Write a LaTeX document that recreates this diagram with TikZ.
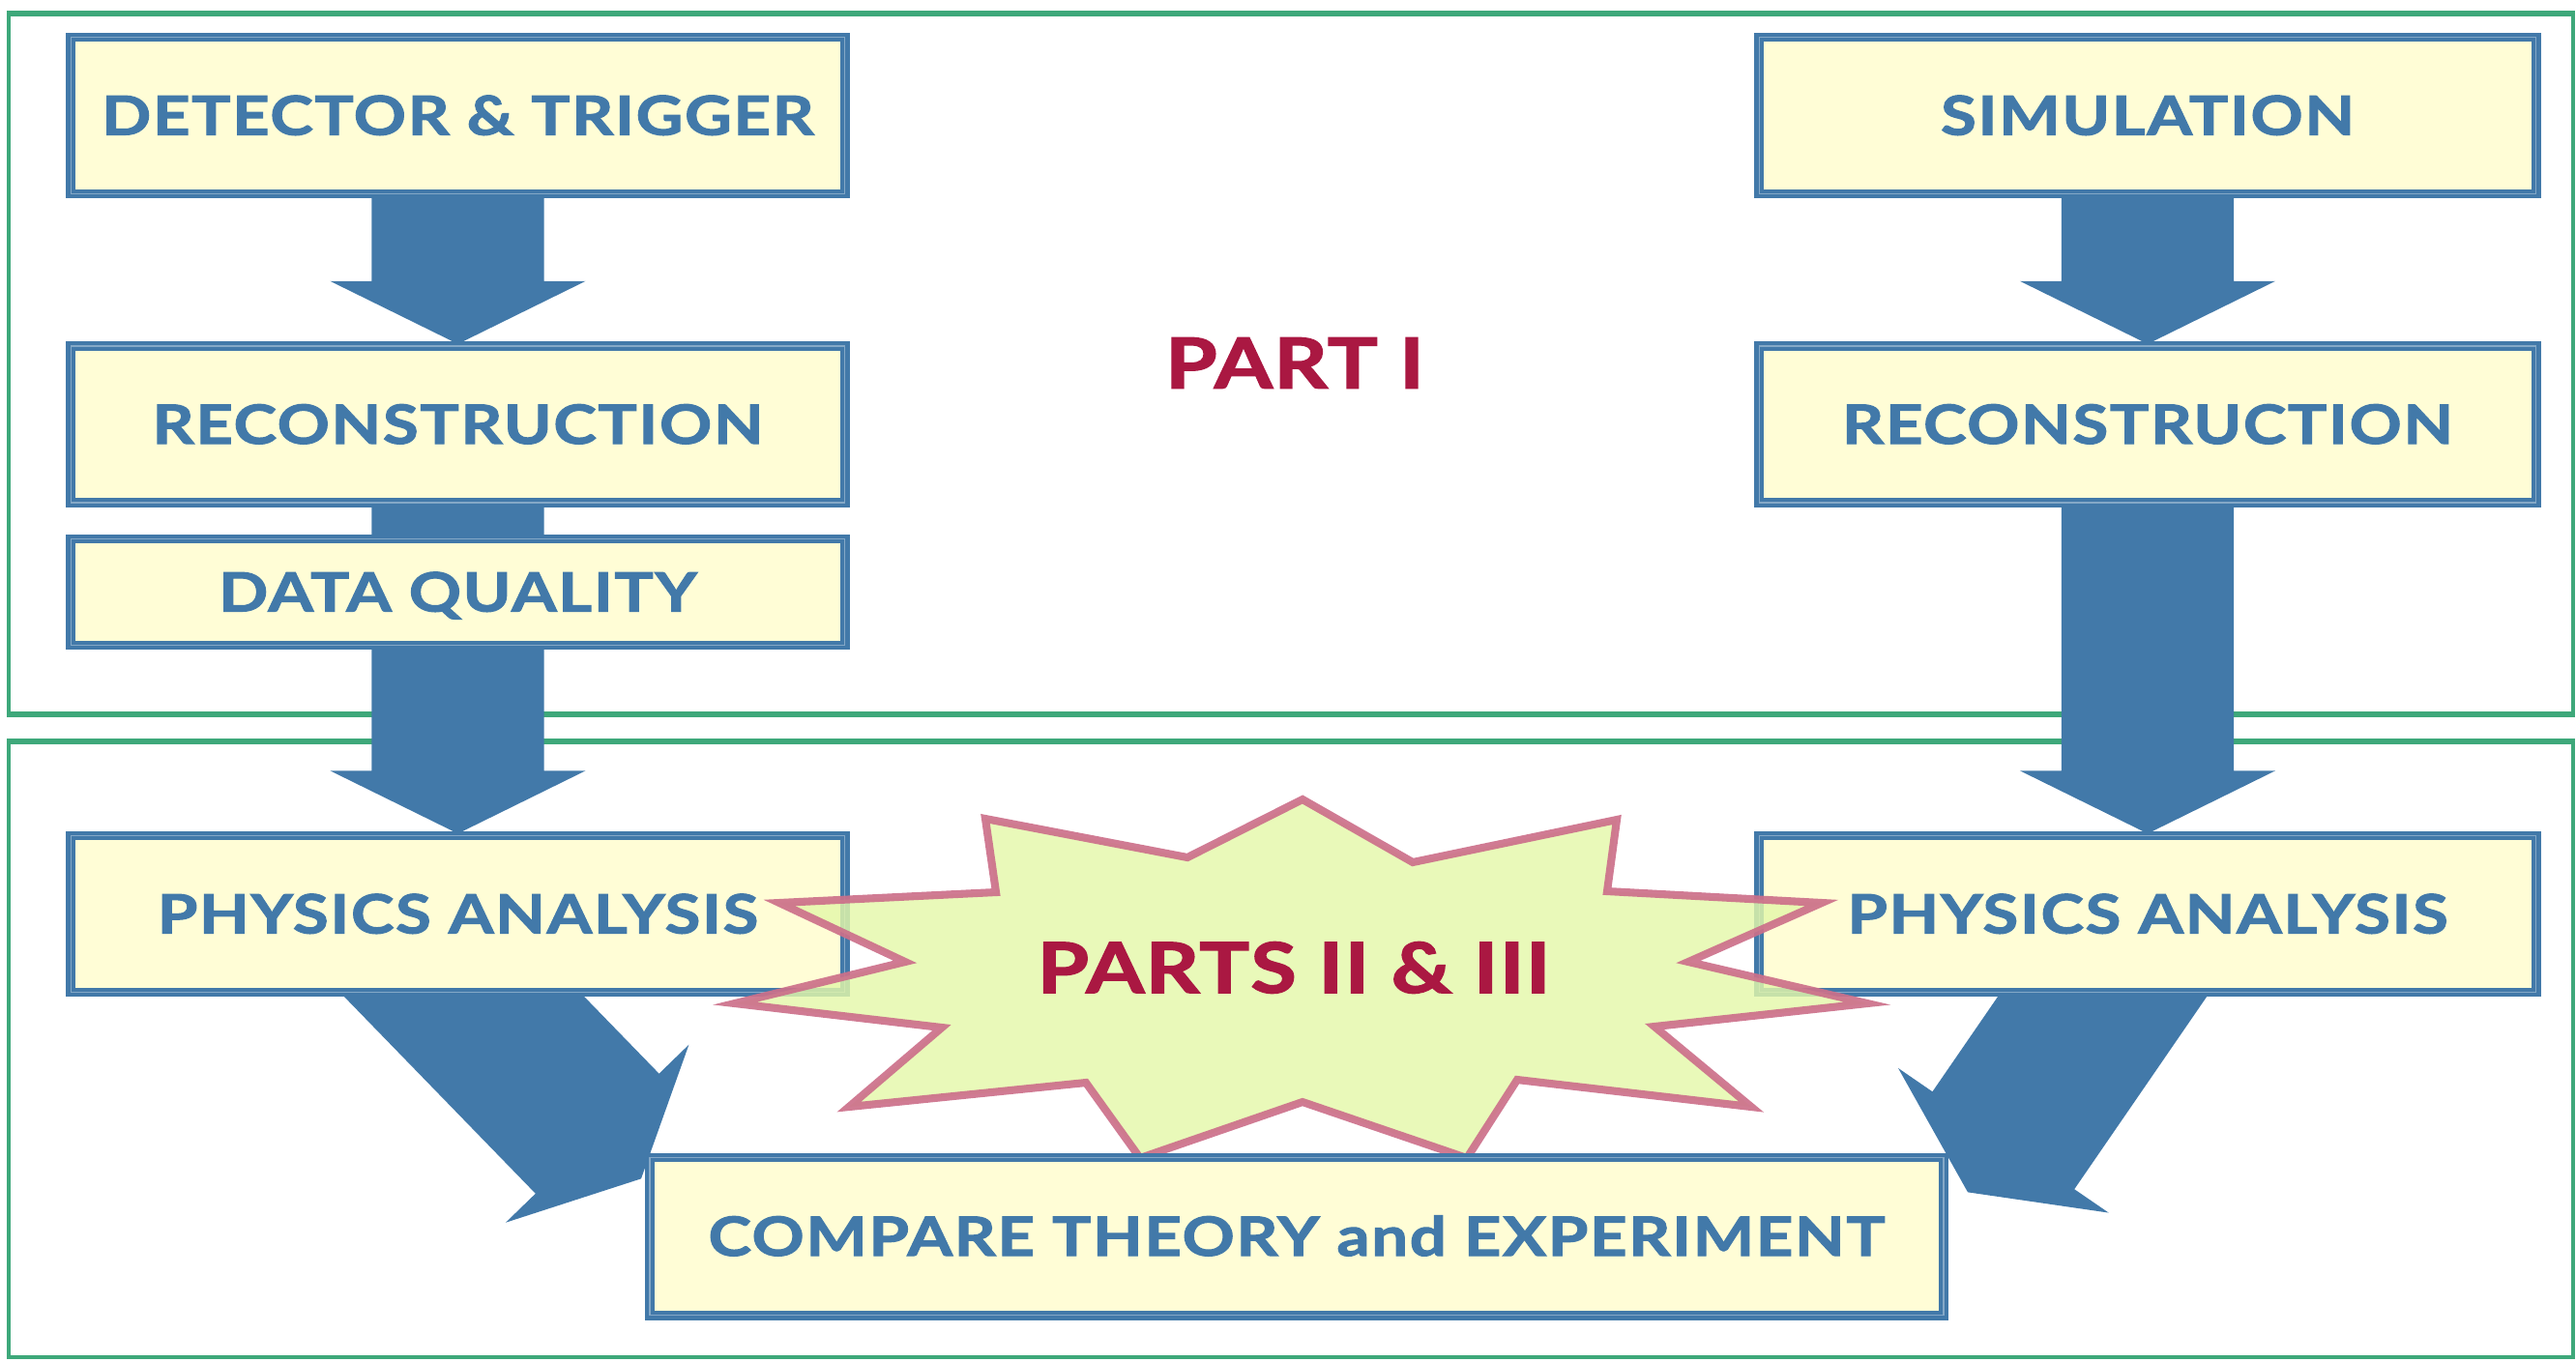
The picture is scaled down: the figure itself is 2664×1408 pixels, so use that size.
\documentclass[tikz,border=0pt]{standalone}
\usepackage{fontspec}
\usetikzlibrary{calc,backgrounds}
\newfontfamily\boxfont{Lato}[FakeStretch=1.2,LetterSpace=3,FakeBold=2]
\newfontfamily\partfont{Lato}[FakeStretch=1.2,LetterSpace=2,FakeBold=2]
\definecolor{boxblue}{RGB}{66,121,169}
\definecolor{boxfill}{RGB}{255,253,214}
\definecolor{framegreen}{RGB}{62,168,122}
\definecolor{partred}{RGB}{170,24,66}
\definecolor{starfill}{RGB}{228,248,170}
\definecolor{starline}{RGB}{204,112,138}

% block arrow from tail point #1 to tip point #2
\newcommand\blockarrow[2]{%
  \path ($(#2)!0.65cm!(#1)$) coordinate (ab-b);
  \fill[boxblue]
    ($(#1)!0.89cm!90:(#2)$) -- ($(ab-b)!0.89cm!90:(#2)$) --
    ($(ab-b)!1.32cm!90:(#2)$) -- (#2) --
    ($(ab-b)!1.32cm!-90:(#2)$) -- ($(ab-b)!0.89cm!-90:(#2)$) --
    ($(#1)!0.89cm!-90:(#2)$) -- cycle;}

\begin{document}
\begin{tikzpicture}[x=0.01cm,y=-0.01cm,
  stagebox/.style={rectangle, fill=boxfill, draw=boxblue, line width=1.2pt,
    double=boxblue!65!white, double distance=0.4pt, text=boxblue,
    inner sep=0pt, text height=0.4cm, text depth=0pt,
    minimum width=8cm, minimum height=1.62cm,
    font=\boxfont\fontsize{15.9}{18}\selectfont\bfseries},
  frameside/.style={draw=framegreen, line width=0.9pt},
  frameedge/.style={draw=framegreen, line width=1.7pt},
  parttext/.style={text=partred, inner sep=0pt, text depth=0pt,
    font=\partfont\fontsize{20.5}{24}\selectfont\bfseries}]
\useasboundingbox (0,0) rectangle (2664,1408);

% stage boxes
\path
  (473.5,119.5) node[stagebox] (det) {DETECTOR \& TRIGGER}
  (473.5,439)   node[stagebox] (rec1) {RECONSTRUCTION}
  (473.5,612.5) node[stagebox, minimum height=1.1cm] (dq) {DATA QUALITY}
  (473.5,945.5) node[stagebox] (phy1) {PHYSICS ANALYSIS}
  (2221,119.5)  node[stagebox, minimum width=8.03cm] (sim) {SIMULATION}
  (2221,439)    node[stagebox, minimum width=8.03cm] (rec2) {RECONSTRUCTION}
  (2221,945.5)  node[stagebox, minimum width=8.03cm] (phy2) {PHYSICS ANALYSIS};

\node[parttext, text height=0.51cm] (part1) at (1339,376) {PART I};

% starburst for parts II and III
\draw[draw=starline, line width=2.3pt, fill=starfill, fill opacity=0.82,
      draw opacity=0.92, line join=miter]
  (1347,827) -- (1461,892) -- (1672,848) -- (1662,922) -- (1884,934) --
  (1746,995) -- (1931,1038) -- (1711,1062) -- (1811,1145) -- (1569,1117) --
  (1517,1198) -- (1347,1140) -- (1179,1198) -- (1123,1120) -- (878,1145) --
  (974,1063) -- (760,1038) -- (936,995) -- (806,934) -- (1030,923) --
  (1019,847) -- (1228,887) -- cycle;
\node[parttext, text height=0.52cm] (part23) at (1338,1001) {PARTS II \& III};

\node[stagebox, minimum width=13.37cm, minimum height=1.63cm] (cmp)
  at (1341,1279) {COMPARE THEORY and EXPERIMENT};

\coordinate (dl-tail) at ($(phy1.south)+(-88,-95)$);
\coordinate (dl-tip)  at ($(cmp.north west)+(-7,24)$);
\coordinate (dr-tail) at ($(phy2.south)+(20,-95)$);
\coordinate (dr-tip)  at ($(cmp.north east)+(23,38)$);

% frames and arrows sit behind the boxes
\begin{scope}[on background layer]
  \draw[frameside] (9,13) rectangle (2661,740);
  \draw[frameside] (9,766) rectangle (2661,1404);
  \draw[frameedge] (9,14) -- (2661,14);
  \draw[frameedge] (9,739) -- (2661,739);
  \draw[frameedge] (9,767) -- (2661,767);
  \blockarrow{det.south}{rec1.north}
  \blockarrow{rec1.south}{phy1.north}
  \blockarrow{sim.south}{rec2.north}
  \blockarrow{rec2.south}{phy2.north}
  \blockarrow{dl-tail}{dl-tip}
  \blockarrow{dr-tail}{dr-tip}
\end{scope}
\end{tikzpicture}
\end{document}
